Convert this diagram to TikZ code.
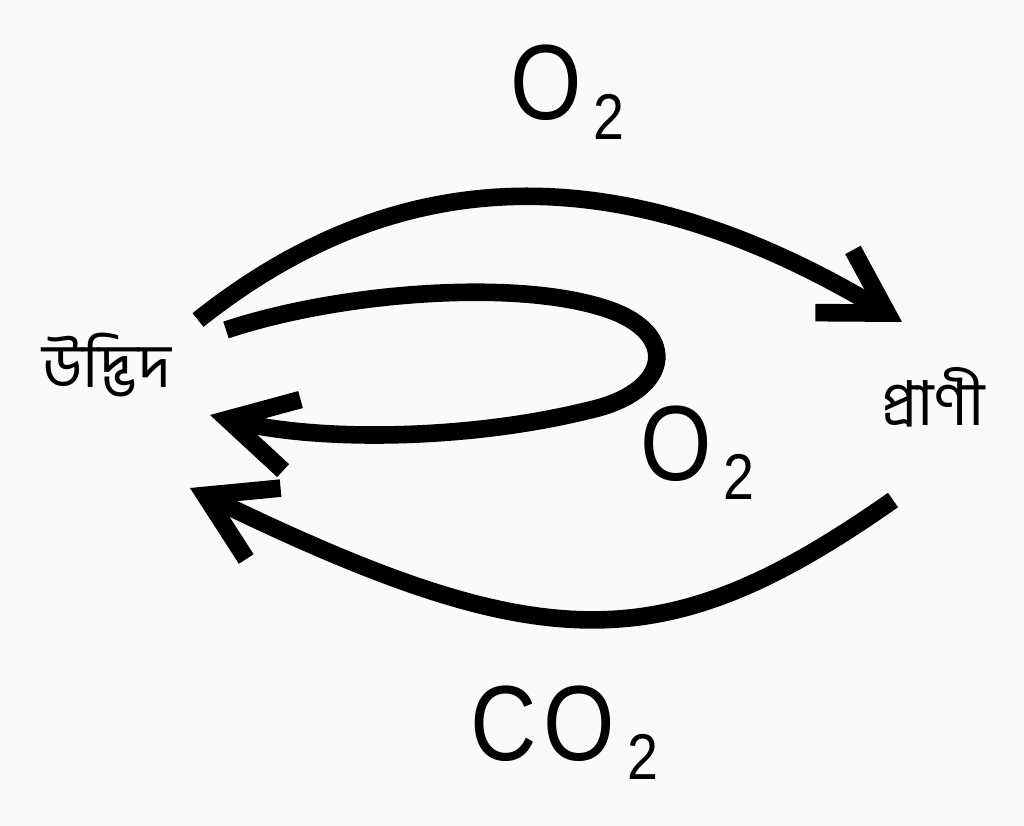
\documentclass[tikz,border=0pt]{standalone}
\usepackage{fontspec}
\setmainfont{Liberation Sans}
\newfontfamily\banglafont[Script=Bengali]{Hind Siliguri}
\usetikzlibrary{arrows.meta}

\newcommand{\gasformula}[1]{\scalebox{0.86}[1]{#1\kern10pt\raisebox{-14pt}{\fontsize{46}{46}\selectfont 2}}}

\tikzset{
	cycleline/.style={line width=12.5pt},
	gaslabel/.style={anchor=base west, inner sep=0pt, font=\fontsize{76}{76}\selectfont},
	lifelabel/.style={inner sep=0pt, font=\banglafont\fontsize{44}{46}\selectfont}
}

\begin{document}
\begin{tikzpicture}[x=0.025cm, y=-0.025cm]

		\fill[gray!4] (0, 0) rectangle (1024, 826);
		\useasboundingbox (0, 0) rectangle (1024, 826);

		% the two sides
		\node[lifelabel] (plant) at (107, 365) {উদ্ভিদ};
		\node[lifelabel] (animal) at (933, 397) {প্রাণী};

		% ends of the arrows
		\coordinate (plant top) at (198, 320);
		\coordinate (plant loop) at (226, 330);
		\coordinate (plant in) at (210, 415);
		\coordinate (plant low) at (190, 488);
		\coordinate (animal in) at (902, 322);
		\coordinate (animal out) at (893, 500);

		% plant gives oxygen to animal
		\draw[cycleline, -{Straight Barb[length=44pt, width=52pt]}] (plant top) .. controls (403, 157) and (627, 157) .. (animal in);

		% plant uses its own oxygen
		\draw[cycleline, -{Straight Barb[length=47pt, width=52pt]}] (plant loop) .. controls (340, 292) and (520, 278) .. (610, 310)
			.. controls (680, 335) and (670, 392) .. (590, 410)
			.. controls (470, 440) and (320, 442) .. (plant in);

		% animal gives carbon dioxide to plant
		\draw[cycleline, -{Straight Barb[length=46pt, width=56pt]}] (animal out) .. controls (665, 660) and (545, 660) .. (plant low);

		% gas names
		\node[gaslabel] (oxygen top) at (510, 120) {\gasformula{O}};
		\node[gaslabel] (oxygen loop) at (640, 480) {\gasformula{O}};
		\node[gaslabel] (carbon dioxide) at (470, 760) {\gasformula{C\kern6pt O}};

	\end{tikzpicture}
\end{document}
